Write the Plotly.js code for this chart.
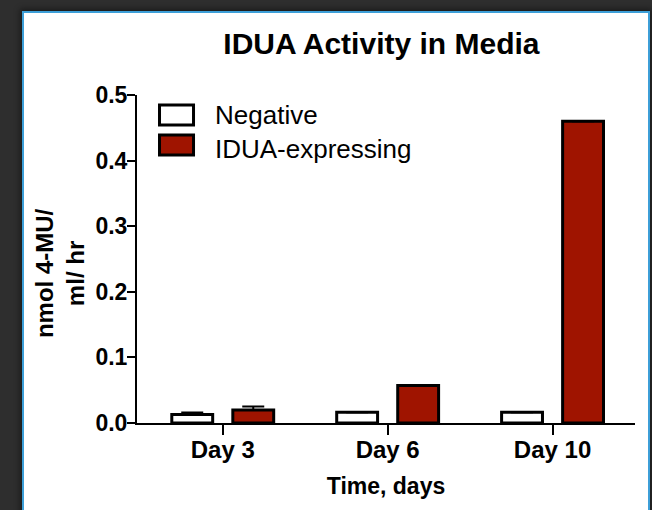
<!DOCTYPE html>
<html>
<head>
<meta charset="utf-8">
<script src="https://cdn.plot.ly/plotly-3.0.1.min.js"></script>
<style>
  html, body { margin: 0; padding: 0; background: #2e2e2e; overflow: hidden; }
  #stage { position: relative; width: 652px; height: 510px; }
  #panel {
    position: absolute; left: 22px; top: 11px; width: 624px; height: 520px;
    background: #ffffff; border: 2px solid #3d9fd8;
    box-shadow: 0 0 6px 2px rgba(0,0,0,0.45);
  }
  #chart { position: absolute; left: 0; top: 0; width: 652px; height: 510px; }
</style>
</head>
<body>
<div id="stage">
  <div id="panel"></div>
  <div id="chart"></div>
</div>
<script>
// Time points on the x axis
const days = ["Day 3", "Day 6", "Day 10"];

// IDUA activity (nmol 4-MU / ml / hr) in culture media
const negative = [0.013, 0.0165, 0.0165];
const negativeErr = [0.003, 0, 0];
const iduaExpressing = [0.020, 0.057, 0.46];
const iduaExpressingErr = [0.005, 0, 0];

// Series names and fills
const seriesNames = ["Negative", "IDUA-expressing"];
const seriesFills = ["#ffffff", "#9f1400"];

const FONT = "Liberation Sans, Arial, Helvetica, sans-serif";

const traces = [
  {
    type: "bar", name: seriesNames[0], x: days, y: negative,
    marker: { color: seriesFills[0], line: { color: "#000000", width: 3 } },
    error_y: { type: "data", symmetric: false, array: negativeErr,
               arrayminus: [0, 0, 0], color: "#000000", thickness: 2, width: 11 }
  },
  {
    type: "bar", name: seriesNames[1], x: days, y: iduaExpressing,
    marker: { color: seriesFills[1], line: { color: "#000000", width: 3 } },
    error_y: { type: "data", symmetric: false, array: iduaExpressingErr,
               arrayminus: [0, 0, 0], color: "#000000", thickness: 2, width: 11 }
  }
];

// Legend drawn as wide swatches with labels beside them
const swatchRows = [
  { y0: 0.9085, y1: 0.9695, fill: seriesFills[0], label: seriesNames[0], ty: 0.9390 },
  { y0: 0.8170, y1: 0.8780, fill: seriesFills[1], label: seriesNames[1], ty: 0.8353 }
];
const shapes = swatchRows.map(s => ({
  type: "rect", xref: "paper", yref: "paper",
  x0: 0.0452, x1: 0.1135, y0: s.y0, y1: s.y1,
  fillcolor: s.fill, line: { color: "#000000", width: 3 }
}));
const annotations = swatchRows.map(s => ({
  text: s.label, xref: "paper", yref: "paper", x: 0.1536, y: s.ty,
  xanchor: "left", yanchor: "middle", showarrow: false,
  font: { family: FONT, size: 26, color: "#000000" }
}));

// Two-line rotated y-axis title
annotations.push({
  text: "nmol 4-MU/<br>ml/ hr", xref: "paper", yref: "paper",
  x: -0.1546, y: 0.457, xanchor: "center", yanchor: "middle",
  textangle: -90, align: "center", showarrow: false,
  font: { family: FONT, size: 24, weight: "bold", color: "#000000" }
});

const layout = {
  width: 652, height: 510,
  margin: { l: 137, r: 17, t: 95, b: 87 },
  paper_bgcolor: "rgba(0,0,0,0)",
  plot_bgcolor: "rgba(0,0,0,0)",
  showlegend: false,
  barmode: "group",
  bargap: 0.26,
  bargroupgap: 0.33,
  title: {
    text: "IDUA Activity in Media",
    font: { family: FONT, size: 30, weight: "bold", color: "#000000" },
    x: 0.585, xanchor: "center", xref: "container",
    y: 0.915, yanchor: "middle", yref: "container"
  },
  xaxis: {
    range: [-0.52, 2.5],
    showline: true, linecolor: "#000000", linewidth: 2,
    ticks: "outside", ticklen: 10, tickwidth: 2, tickcolor: "#000000",
    showgrid: false, zeroline: false,
    ticklabelstandoff: -6,
    tickfont: { family: FONT, size: 24, weight: "bold", color: "#000000" },
    title: {
      text: "Time, days", standoff: 16,
      font: { family: FONT, size: 23, weight: "bold", color: "#000000" }
    }
  },
  yaxis: {
    range: [0, 0.5],
    dtick: 0.1, tickformat: ".1f",
    showline: true, linecolor: "#000000", linewidth: 2,
    ticks: "outside", ticklen: 8, tickwidth: 2, tickcolor: "#000000",
    showgrid: false, zeroline: false,
    ticklabelstandoff: -5,
    tickfont: { family: FONT, size: 23, weight: "bold", color: "#000000" }
  },
  shapes: shapes,
  annotations: annotations
};

Plotly.newPlot("chart", traces, layout, { displayModeBar: false, staticPlot: true });
</script>
</body>
</html>
